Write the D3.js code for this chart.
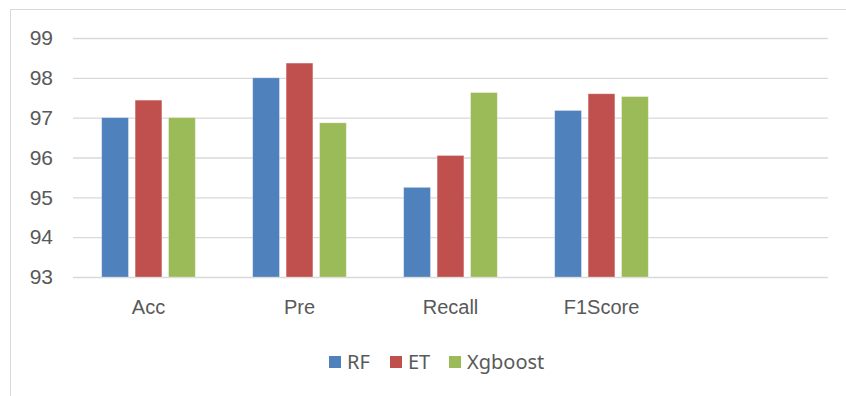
<!DOCTYPE html>
<html lang="en">
<head>
  <meta charset="UTF-8" />
  <title>Model metrics</title>
  <script src="https://d3js.org/d3.v7.min.js"></script>
  <style>
    html, body {
      margin: 0;
      padding: 0;
      background: #fff;
      overflow: hidden;
    }
    svg {
      display: block;
      font-family: 'Noto Sans', sans-serif;
    }
  </style>
</head>
<body>
  <svg width="846" height="396"></svg>

  <script>
    // chart data (last category is empty in the original sheet)
    const categories = ["Acc", "Pre", "Recall", "F1Score", ""];
    const series = ["RF", "ET", "Xgboost"];
    const rfValues = [97.0, 98.0, 95.25, 97.18];
    const etValues = [97.44, 98.37, 96.05, 97.6];
    const xgValues = [97.0, 96.87, 97.63, 97.53];
    const yTicks = [93, 94, 95, 96, 97, 98, 99];
    const colors = ["#4F81BD", "#C0504D", "#9BBB59"];

    const svg = d3.select("svg");
    const textColor = "#595959";
    const gridColor = "#d9d9d9";

    // outer chart frame
    svg.append("rect")
      .attr("x", 10.5)
      .attr("y", 9.5)
      .attr("width", 860)
      .attr("height", 420)
      .attr("fill", "#fff")
      .attr("stroke", gridColor);

    const plotLeft = 73, plotRight = 828, plotTop = 38, plotBottom = 277;

    const x = d3.scaleBand()
      .domain(categories)
      .range([plotLeft, plotRight]);

    const y = d3.scaleLinear()
      .domain([93, 99])
      .range([plotBottom, plotTop]);

    const groupWidth = x.bandwidth() * 0.62;
    const x1 = d3.scaleBand()
      .domain(series)
      .range([0, groupWidth])
      .paddingInner(0.2);

    const color = d3.scaleOrdinal().domain(series).range(colors);

    // gridlines + y labels
    const yAxis = d3.axisLeft(y)
      .tickValues(yTicks)
      .tickSize(-(plotRight - plotLeft))
      .tickPadding(20)
      .tickFormat(d3.format("d"));

    const yG = svg.append("g")
      .attr("transform", `translate(${plotLeft},0)`)
      .call(yAxis);
    yG.select(".domain").remove();
    yG.selectAll(".tick line")
      .attr("stroke", gridColor)
      .attr("stroke-width", 1.3);
    yG.selectAll(".tick text")
      .attr("fill", textColor)
      .style("font-size", "21px")
      .attr("x", -20);

    // bars
    const rows = categories.slice(0, 4).map((c, i) => ({
      cat: c,
      values: [rfValues[i], etValues[i], xgValues[i]]
    }));

    const groups = svg.append("g")
      .selectAll("g")
      .data(rows)
      .join("g")
      .attr("transform", d => `translate(${x(d.cat) + (x.bandwidth() - groupWidth) / 2},0)`);

    groups.selectAll("rect")
      .data(d => d.values.map((v, j) => ({ key: series[j], value: v })))
      .join("rect")
      .attr("x", d => x1(d.key))
      .attr("y", d => y(d.value))
      .attr("width", x1.bandwidth())
      .attr("height", d => y(93) - y(d.value))
      .attr("fill", d => color(d.key))
      .attr("stroke", "rgba(255,255,255,0.35)")
      .attr("stroke-width", 0.8);

    // x axis labels
    const xAxis = d3.axisBottom(x).tickSize(0).tickPadding(23);
    const xG = svg.append("g")
      .attr("transform", `translate(0,${plotBottom})`)
      .call(xAxis);
    xG.select(".domain").remove();
    xG.selectAll(".tick text")
      .attr("fill", textColor)
      .style("font-size", "20px");

    // legend
    const legendItems = [
      { key: "RF", x: 329 },
      { key: "ET", x: 390 },
      { key: "Xgboost", x: 449 }
    ];
    const legend = svg.append("g")
      .selectAll("g")
      .data(legendItems)
      .join("g")
      .attr("transform", d => `translate(${d.x},362)`);

    legend.append("rect")
      .attr("x", 0)
      .attr("y", -6)
      .attr("width", 12)
      .attr("height", 12)
      .attr("fill", d => color(d.key));

    legend.append("text")
      .attr("x", 18)
      .attr("y", 0)
      .attr("dy", "0.35em")
      .attr("fill", textColor)
      .style("font-size", "20px")
      .text(d => d.key);
  </script>
</body>
</html>
